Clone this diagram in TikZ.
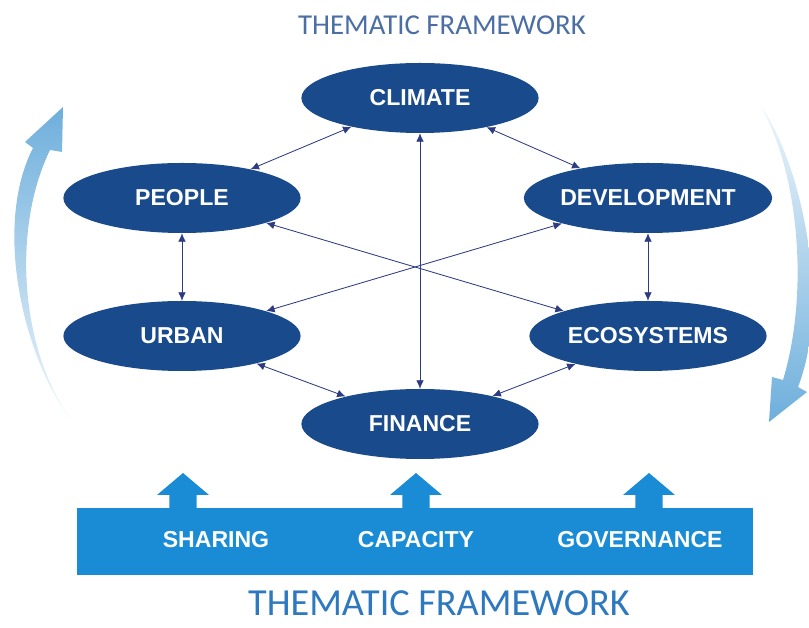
\documentclass[tikz,border=0pt]{standalone}
\usepackage{fontspec}
\setmainfont{Carlito}
\newfontfamily\boxfont{Liberation Sans}
\usepackage{xcolor}
\usepackage{tikz}
\usetikzlibrary{arrows.meta}
\usetikzlibrary{shapes.geometric, positioning, calc}

\definecolor{themeblue}{RGB}{24,74,140}
\definecolor{linkblue}{RGB}{45,60,130}
\definecolor{barblue}{RGB}{26,140,214}
\definecolor{arcblue}{RGB}{110,175,220}
\definecolor{toptitle}{RGB}{75,110,165}
\definecolor{bottomtitle}{RGB}{45,120,190}

\begin{document}
\begin{tikzpicture}[>={Latex[length=6pt,width=5.5pt]},
    theme/.style={ellipse, fill=themeblue, text=white, minimum width=5.93cm, minimum height=1.75cm, inner sep=0pt, font=\boxfont\bfseries\fontsize{16.4}{19}\selectfont},
    link/.style={<->, linkblue, line width=0.6pt},
    pillar/.style={text=white, font=\boxfont\bfseries\fontsize{16.4}{19}\selectfont}]
    %\draw[step=1cm, gray, very thin] (0, 0) grid (20, 15);
    \useasboundingbox (0, 0) rectangle (20.225, 15.7);

    \node[text=toptitle, font=\fontsize{20.5}{24}\selectfont] (title) at (11.05, 15.07) {THEMATIC FRAMEWORK};

    % side arcs
    \shade[top color=arcblue, bottom color=arcblue!12] (1.75, 5.25) .. controls (0.625, 6.7) and (-0.2, 10.0) .. (0.825, 12.0)
      -- (0.625, 12.15) -- (1.575, 13.025) -- (1.55, 11.9) -- (1.25, 11.95)
      .. controls (0.3, 10.0) and (0.5, 7.0) .. (1.75, 5.25) -- cycle;
    \shade[top color=arcblue!12, bottom color=arcblue] (19.0, 13.075) .. controls (20.0, 11.7) and (20.8, 8.2) .. (19.95, 6.025)
      -- (20.175, 5.9) -- (19.225, 5.15) -- (19.3, 6.275) -- (19.575, 6.2)
      .. controls (20.25, 8.45) and (19.95, 11.45) .. (19.0, 13.075) -- cycle;

    \node[theme] (climate) at (10.5, 13.25) {CLIMATE};
    \node[theme] (people) at (4.55, 10.75) {PEOPLE};
    \node[theme] (development) at (16.2, 10.75) {DEVELOPMENT};
    \node[theme] (urban) at (4.55, 7.3) {URBAN};
    \node[theme] (ecosystems) at (16.2, 7.3) {ECOSYSTEMS};
    \node[theme] (finance) at (10.5, 5.1) {FINANCE};

    \draw[link] (climate) -- (people);
    \draw[link] (climate) -- (development);
    \draw[link] (climate) -- (finance);
    \draw[link] (people) -- (urban);
    \draw[link] (development) -- (ecosystems);
    \draw[link] (people) -- (ecosystems);
    \draw[link] (development) -- (urban);
    \draw[link] (urban) -- (finance);
    \draw[link] (ecosystems) -- (finance);

    % base bar with three arrows
    \fill[barblue] (1.925, 1.325) rectangle (18.825, 3.0);
    \fill[barblue] (4.235, 2.9) -- (4.235, 3.325) -- (3.925, 3.325) -- (4.575, 3.875) -- (5.225, 3.325) -- (4.915, 3.325) -- (4.915, 2.9) -- cycle;
    \fill[barblue] (10.06, 2.9) -- (10.06, 3.325) -- (9.75, 3.325) -- (10.4, 3.875) -- (11.05, 3.325) -- (10.74, 3.325) -- (10.74, 2.9) -- cycle;
    \fill[barblue] (15.885, 2.9) -- (15.885, 3.325) -- (15.575, 3.325) -- (16.225, 3.875) -- (16.875, 3.325) -- (16.565, 3.325) -- (16.565, 2.9) -- cycle;

    \node[pillar] (sharing) at (5.4, 2.2) {SHARING};
    \node[pillar] (capacity) at (10.4, 2.2) {CAPACITY};
    \node[pillar] (governance) at (16.0, 2.2) {GOVERNANCE};

    \node[anchor=base, inner sep=0pt, text=bottomtitle, font=\fontsize{27.2}{32}\selectfont] (subtitle) at (10.975, 0.3) {THEMATIC FRAMEWORK};

  \end{tikzpicture}
\end{document}
